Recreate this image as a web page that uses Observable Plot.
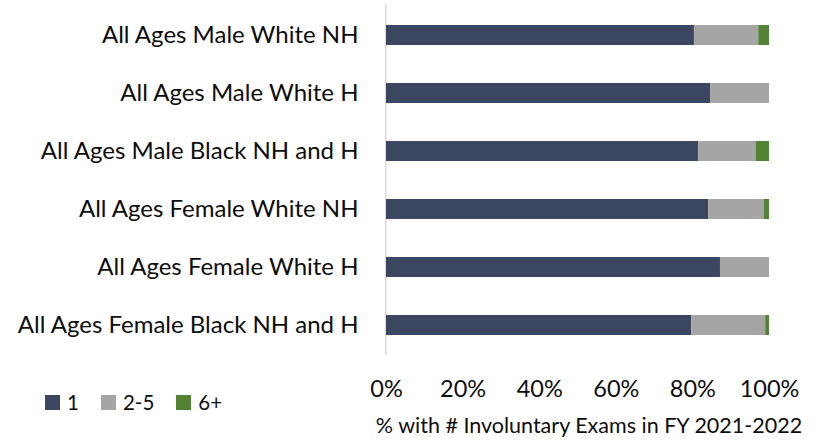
<!DOCTYPE html>
<html>
<head>
<meta charset="utf-8">
<script src="https://cdn.jsdelivr.net/npm/d3@7"></script>
<script src="https://cdn.jsdelivr.net/npm/@observablehq/plot@0.6"></script>
<style>
  html, body { margin: 0; padding: 0; background: #fff; }
  #chart { position: relative; width: 818px; height: 440px; overflow: hidden; }
  #legend { position: absolute; left: 45px; top: 390px; margin: 0 !important; min-height: 0 !important; }
  #legend, #legend * {
    font-family: Lato, 'Open Sans', sans-serif !important;
    font-size: 20.5px !important;
    color: #0d0d0d !important;
  }
  #legend > span { margin-right: 22px !important; }
  #legend > span > svg { margin-right: 7px !important; }
</style>
</head>
<body>
<div id="chart"></div>
<script>
// Population groups, top to bottom
const groups = [
  "All Ages Male White NH",
  "All Ages Male White H",
  "All Ages Male Black NH and H",
  "All Ages Female White NH",
  "All Ages Female White H",
  "All Ages Female Black NH and H"
];

// Number-of-exams buckets and their colours
const buckets = ["1", "2-5", "6+"];
const bucketColors = ["#3b4660", "#a5a5a5", "#548235"];

// Share of people (%) in each bucket, per group
const share1   = [80.4, 84.6, 81.5, 84.1, 87.2, 79.7];
const share2to5 = [16.8, 15.4, 15.0, 14.6, 12.8, 19.3];
const share6plus = [2.8, 0.0, 3.5, 1.3, 0.0, 1.0];

const xTicks = [0, 0.2, 0.4, 0.6, 0.8, 1.0];
const xTitle = "% with # Involuntary Exams in FY 2021-2022";

// Long-format rows for the stacked bars
const seriesValues = [share1, share2to5, share6plus];
const rows = [];
buckets.forEach((b, j) => {
  groups.forEach((g, i) => {
    rows.push({group: g, bucket: b, value: seriesValues[j][i] / 100});
  });
});

const font = "Lato, 'Open Sans', sans-serif";

const chart = Plot.plot({
  width: 818,
  height: 440,
  marginLeft: 386,
  marginRight: 49,
  marginTop: 4,
  marginBottom: 85,
  style: {fontFamily: font, fontSize: "24px", color: "#0d0d0d", background: "#fff"},
  x: {domain: [0, 1], axis: null},
  y: {domain: groups, paddingInner: 0.66, paddingOuter: 0.33, axis: null},
  color: {domain: buckets, range: bucketColors},
  marks: [
    Plot.ruleX([0], {stroke: "#d9d9d9", strokeWidth: 1.5, dx: -0.75}),
    Plot.barX(rows, Plot.stackX({x: "value", y: "group", fill: "bucket", order: buckets})),
    Plot.axisY({tickSize: 0, tickPadding: 28, fontSize: 24, label: null}),
    Plot.axisX({
      ticks: xTicks,
      tickFormat: d => Math.round(d * 100) + "%",
      tickSize: 0,
      tickPadding: 25,
      fontSize: 23.5,
      label: null
    }),
    Plot.text([xTitle], {
      frameAnchor: "bottom",
      lineAnchor: "top",
      dx: 11,
      dy: 62,
      fontSize: 21.5,
      fill: "#0d0d0d"
    })
  ]
});

const legend = Plot.legend({
  color: {domain: buckets, range: bucketColors},
  legend: "swatches",
  swatchSize: 15,
  className: "lg"
});
legend.id = "legend";

const container = document.getElementById("chart");
container.appendChild(chart);
container.appendChild(legend);
</script>
</body>
</html>
